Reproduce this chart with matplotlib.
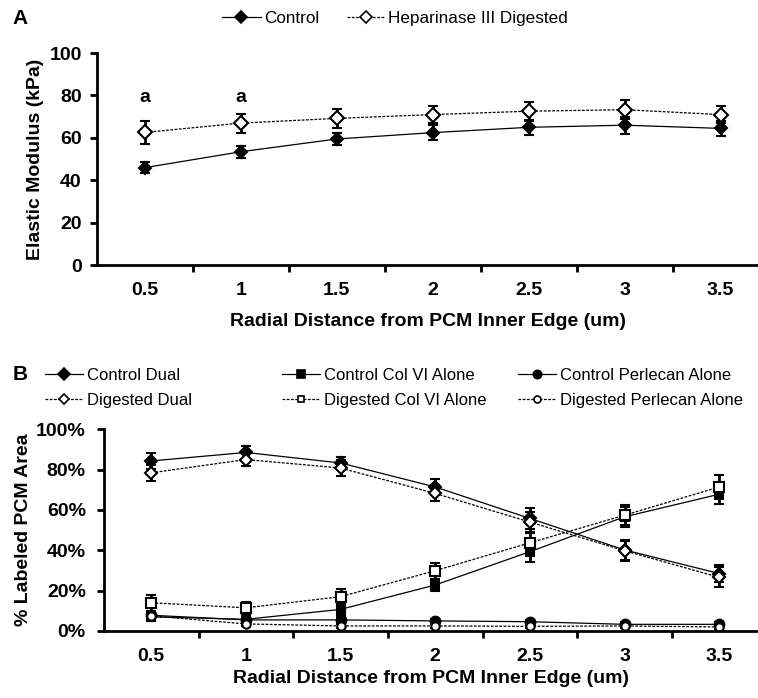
import numpy as np
import matplotlib.pyplot as plt
from matplotlib.lines import Line2D

plt.rcParams['font.family'] = ['Liberation Sans', 'DejaVu Sans']

# radial distance categories
distances = ["0.5", "1", "1.5", "2", "2.5", "3", "3.5"]

# panel A: elastic modulus (kPa)
control_mod = [46, 53.5, 59.5, 62.5, 65, 66, 64.5]
control_mod_err = [2.7, 2.8, 3, 3.5, 3.5, 4, 3.5]
digested_mod = [62.6, 67, 69.2, 71, 72.6, 73.3, 71]
digested_mod_err = [5.5, 4.5, 4.5, 4, 4.5, 4.5, 4]
sig_marks = ["a", "a", "", "", "", "", ""]

# panel B: % labeled PCM area
ctrl_dual = [84.3, 88.5, 83.3, 71.4, 55.8, 40.2, 28.5]
ctrl_dual_err = [4, 3, 3, 4, 5, 5, 4]
dig_dual = [78.4, 85, 80.8, 68.2, 54, 39.8, 26.6]
dig_dual_err = [4, 3, 4, 4, 5, 5, 5]
ctrl_col6 = [7, 5.8, 10.7, 22.8, 39.3, 56.6, 67.8]
ctrl_col6_err = [2, 2, 3, 3, 5, 5, 5]
dig_col6 = [14, 11.5, 17, 29.9, 43.7, 57.4, 71.4]
dig_col6_err = [4, 3, 4, 4, 5, 5, 6]
ctrl_perl = [7.8, 5.5, 5.5, 5, 4.6, 3.3, 3.3]
ctrl_perl_err = [1.5, 1.5, 1.5, 1, 1, 1, 1]
dig_perl = [7.5, 3.5, 2.5, 2.5, 2.3, 2.5, 2]
dig_perl_err = [1.5, 1, 1, 1, 1, 1, 1]

x = np.arange(len(distances))
dash = (0, (2.2, 1.2))

fig = plt.figure(figsize=(7.58, 6.98), dpi=100)

def style_axis(ax, ymax, ystep, right, labelpad, ypad):
    ax.set_xlim(-0.5, right)
    ax.set_ylim(0, ymax)
    ax.set_yticks(np.arange(0, ymax + 0.1, ystep))
    ax.set_xticks(x)
    ax.set_xticklabels(distances, fontsize=14, fontweight='bold')
    ax.set_xticks(x[:-1] + 0.5, minor=True)
    ax.tick_params(axis='x', which='major', length=0, pad=12)
    ax.tick_params(axis='x', which='minor', length=5, width=2, direction='out')
    ax.tick_params(axis='y', length=5, width=2, direction='out', labelsize=14, pad=ypad)
    for lbl in ax.get_yticklabels():
        lbl.set_fontweight('bold')
    ax.spines['top'].set_visible(False)
    ax.spines['right'].set_visible(False)
    ax.spines['left'].set_linewidth(2)
    ax.spines['bottom'].set_linewidth(2)
    ax.set_xlabel("Radial Distance from PCM Inner Edge (um)", fontsize=14,
                  fontweight='bold', labelpad=labelpad)

def draw(ax, y, err, marker, filled, ls, ms):
    ax.errorbar(x, y, yerr=err, color='black', linestyle=ls, linewidth=0.9,
                marker=marker, markersize=ms,
                markerfacecolor='black' if filled else 'white',
                markeredgecolor='black', markeredgewidth=1.5,
                ecolor='black', elinewidth=2, capsize=3.5, capthick=2)

def leg_handle(marker, filled, ls, ms):
    return Line2D([], [], color='black', lw=0.9, ls=ls, marker=marker, ms=ms,
                  mfc='black' if filled else 'white', mec='black', mew=1.2)

# ---- panel A ----
axA = fig.add_axes([0.128, 0.620, 0.872, 0.304])
draw(axA, control_mod, control_mod_err, 'D', True, '-', 6)
draw(axA, digested_mod, digested_mod_err, 'D', False, dash, 7)
style_axis(axA, 100, 20, 6.39, 10, 6)
axA.set_ylabel("Elastic Modulus (kPa)", fontsize=14, fontweight='bold', labelpad=4)
for i, s in enumerate(sig_marks):
    if s:
        axA.text(x[i], 79, s, ha='center', va='center', fontsize=14, fontweight='bold')

hA = [leg_handle('D', True, '-', 6), leg_handle('D', False, dash, 6)]
fig.legend(hA, ["Control", "Heparinase III Digested"], loc='center left', ncol=2,
           bbox_to_anchor=(0.293, 0.974), frameon=False, fontsize=12.3,
           handlelength=2.25, handletextpad=0.2, columnspacing=1.6,
           borderpad=0, borderaxespad=0)
fig.text(20 / 758, 0.974, "A", fontsize=15, fontweight='bold', ha='center', va='center')

# ---- panel B ----
axB = fig.add_axes([0.137, 0.096, 0.863, 0.289])
draw(axB, ctrl_dual, ctrl_dual_err, 'D', True, '-', 6)
draw(axB, dig_dual, dig_dual_err, 'D', False, dash, 6)
draw(axB, ctrl_col6, ctrl_col6_err, 's', True, '-', 6)
draw(axB, dig_col6, dig_col6_err, 's', False, dash, 7)
draw(axB, ctrl_perl, ctrl_perl_err, 'o', True, '-', 7)
draw(axB, dig_perl, dig_perl_err, 'o', False, dash, 6)
style_axis(axB, 100, 20, 6.41, 4, 8)
axB.set_yticklabels([f"{v}%" for v in range(0, 101, 20)])
for lbl in axB.get_yticklabels():
    lbl.set_fontweight('bold')
axB.set_ylabel("% Labeled PCM Area", fontsize=14, fontweight='bold', labelpad=3)

hB = [leg_handle('D', True, '-', 6), leg_handle('D', False, dash, 5),
      leg_handle('s', True, '-', 6), leg_handle('s', False, dash, 5),
      leg_handle('o', True, '-', 6), leg_handle('o', False, dash, 5)]
labB = ["Control Dual", "Digested Dual", "Control Col VI Alone", "Digested Col VI Alone",
        "Control Perlecan Alone", "Digested Perlecan Alone"]
col_x = [45, 282, 518]
for k in range(3):
    fig.legend(hB[2 * k:2 * k + 2], labB[2 * k:2 * k + 2], loc='upper left',
               bbox_to_anchor=(col_x[k] / 758, 1 - 368 / 698), frameon=False,
               fontsize=12, handlelength=2.3, handletextpad=0.2,
               labelspacing=0.6, borderpad=0, borderaxespad=0)
fig.text(20 / 758, 1 - 375 / 698, "B", fontsize=15, fontweight='bold', ha='center', va='center')

fig.savefig("out.png", dpi=100)
